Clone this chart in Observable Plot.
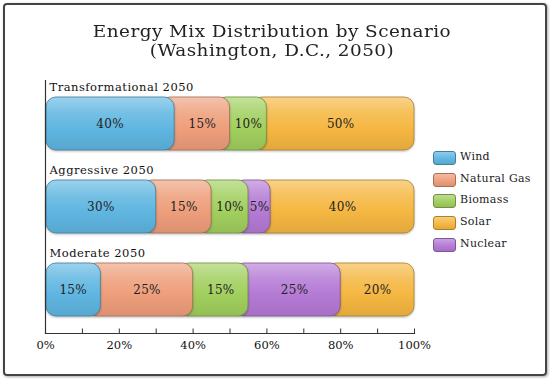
<!DOCTYPE html>
<html>
<head>
<meta charset="utf-8">
<script src="https://cdn.jsdelivr.net/npm/d3@7"></script>
<script src="https://cdn.jsdelivr.net/npm/@observablehq/plot@0.6"></script>
<style>
  html, body { margin: 0; padding: 0; background: #fff; }
  #wrap { position: relative; width: 550px; height: 379px; overflow: hidden; background: #fff; font-family: "DejaVu Serif", serif; color: #222; }
  #border { position: absolute; left: 3px; top: 3px; width: 540px; height: 369px; border: 2px solid #444; border-radius: 4px; box-shadow: 1px 1px 3px rgba(0,0,0,0.35); }
  #title { position: absolute; left: 0; top: 22px; width: 544px; text-align: center; font-size: 16px; line-height: 19px; letter-spacing: 0.4px; color: #222; transform: scaleX(1.15); transform-origin: 272px 0; }
  #chart { position: absolute; left: 0; top: 0; }
  #legend { position: absolute; left: 433px; top: 151px; }
  .item { position: relative; height: 21.7px; }
  .sw { position: absolute; left: 0; top: 0; width: 21px; height: 12px; border-radius: 3px; }
  .lab { position: absolute; left: 27px; top: -1px; font-size: 11px; line-height: 14px; letter-spacing: 0.3px; white-space: nowrap; }
</style>
</head>
<body>
<div id="wrap">
  <div id="border"></div>
  <div id="title">Energy Mix Distribution by Scenario<br>(Washington, D.C., 2050)</div>
  <div id="chart"></div>
  <div id="legend"></div>
</div>
<script>
// ---- data ----
const scenarios = ["Transformational 2050", "Aggressive 2050", "Moderate 2050"];
const sources = ["Wind", "Natural Gas", "Biomass", "Solar", "Nuclear"];
const colors = ["#5fb6e1", "#ee9e7b", "#a1cf5e", "#f5b741", "#b47ad5"];

// segments left to right; widths as drawn (share of bar), labels as printed
const transformationalSources = ["Wind", "Natural Gas", "Biomass", "Solar"];
const transformationalWidths = [35, 15, 10, 40];
const transformationalLabels = ["40%", "15%", "10%", "50%"];

const aggressiveSources = ["Wind", "Natural Gas", "Biomass", "Nuclear", "Solar"];
const aggressiveWidths = [30, 15, 10, 6, 39];
const aggressiveLabels = ["30%", "15%", "10%", "5%", "40%"];

const moderateSources = ["Wind", "Natural Gas", "Biomass", "Nuclear", "Solar"];
const moderateWidths = [15, 25, 15, 25, 20];
const moderateLabels = ["15%", "25%", "15%", "25%", "20%"];

const xTickLabels = [0, 20, 40, 60, 80, 100];
const xTickMarks = [10, 20, 30, 40, 50, 60, 70, 80, 90, 100];

// ---- build rows ----
function rowsFor(scenario, srcs, widths, labels) {
  const ends = d3.cumsum(widths);
  return srcs.map((s, i) => ({
    scenario, source: s, label: labels[i],
    x1: ends[i] - widths[i], x2: ends[i]
  }));
}
const rows = [
  ...rowsFor(scenarios[0], transformationalSources, transformationalWidths, transformationalLabels),
  ...rowsFor(scenarios[1], aggressiveSources, aggressiveWidths, aggressiveLabels),
  ...rowsFor(scenarios[2], moderateSources, moderateWidths, moderateLabels)
];

const colorOf = s => colors[sources.indexOf(s)];
const gradId = s => "grad" + sources.indexOf(s);

// z-order: bottom first
const drawOrder = ["Solar", "Nuclear", "Biomass", "Natural Gas", "Wind"];

const defsMark = () => {
  const defs = d3.create("svg:defs");
  sources.forEach((s, i) => {
    const c = colors[i];
    const g = defs.append("linearGradient").attr("id", "grad" + i)
      .attr("x1", 0).attr("y1", 0).attr("x2", 0).attr("y2", 1);
    g.append("stop").attr("offset", "0%").attr("stop-color", d3.interpolateRgb(c, "#fff")(0.38));
    g.append("stop").attr("offset", "30%").attr("stop-color", d3.interpolateRgb(c, "#fff")(0.14));
    g.append("stop").attr("offset", "60%").attr("stop-color", c);
    g.append("stop").attr("offset", "100%").attr("stop-color", d3.interpolateRgb(c, "#000")(0.08));
  });
  return defs.node();
};

const barMarks = drawOrder.map(s => Plot.barX(rows.filter(d => d.source === s), {
  x1: "x1", x2: "x2", y: "scenario",
  fill: "url(#" + gradId(s) + ")",
  stroke: d3.interpolateRgb(colorOf(s), "#000")(0.3),
  strokeWidth: 0.8,
  rx: 10,
  insetLeft: s === "Wind" ? 1 : -14,
  insetRight: 0
}));

const chart = Plot.plot({
  width: 550,
  height: 379,
  marginLeft: 45,
  marginRight: 136,
  marginTop: 80,
  marginBottom: 46,
  style: { fontFamily: "'DejaVu Serif', serif", fontSize: "12px", color: "#222", background: "transparent" },
  x: { domain: [0, 100], axis: null },
  y: { type: "band", domain: scenarios, range: [96, 318], paddingInner: 0.357, paddingOuter: 0, axis: null },
  marks: [
    defsMark,
    ...barMarks,
    Plot.text(rows, { x: d => (d.x1 + d.x2) / 2, y: "scenario", text: "label", fontSize: 12, fill: "#222" }),
    Plot.text(scenarios, { frameAnchor: "left", y: d => d, text: d => d, textAnchor: "start", dx: 4, dy: -37, fontSize: 11.5, fill: "#111" }),
    Plot.ruleX([0], { stroke: "#333", strokeWidth: 1.2 }),
    Plot.frame({ anchor: "bottom", stroke: "#333", strokeWidth: 1.2 }),
    Plot.axisX({ ticks: xTickMarks, tickSize: -4.5, tickFormat: () => "", stroke: "#333" }),
    Plot.axisX({ ticks: xTickLabels, tickSize: 0, tickPadding: 7, tickFormat: d => d + "%", fontSize: 11.5, fill: "#111" })
  ]
});
document.getElementById("chart").appendChild(chart);

// styling touches: shadow under bar groups, letter spacing for labels
const sel = d3.select(chart);
sel.selectAll("g").filter(function () { const f = this.getAttribute("fill"); return f && f.startsWith("url("); })
  .style("filter", "drop-shadow(0px 1.5px 1.2px rgba(0,0,0,0.28))");
sel.selectAll("text").filter(function () { return scenarios.includes(this.textContent); })
  .style("letter-spacing", "0.5px");
sel.selectAll("text").filter(function () { return /^\d+%$/.test(this.textContent) && this.closest("g[aria-label='x-axis tick label']") === null; })
  .style("letter-spacing", "0.3px");

// ---- legend ----
const legend = d3.select("#legend");
const legendOrder = ["Wind", "Natural Gas", "Biomass", "Solar", "Nuclear"];
legendOrder.forEach(s => {
  const c = colorOf(s);
  const item = legend.append("div").attr("class", "item");
  item.append("div").attr("class", "sw")
    .style("background", `linear-gradient(${d3.interpolateRgb(c, "#fff")(0.3)}, ${c} 60%, ${d3.interpolateRgb(c, "#000")(0.08)})`)
    .style("border", `1px solid ${d3.interpolateRgb(c, "#000")(0.3)}`);
  item.append("div").attr("class", "lab").text(s);
});
</script>
</body>
</html>
